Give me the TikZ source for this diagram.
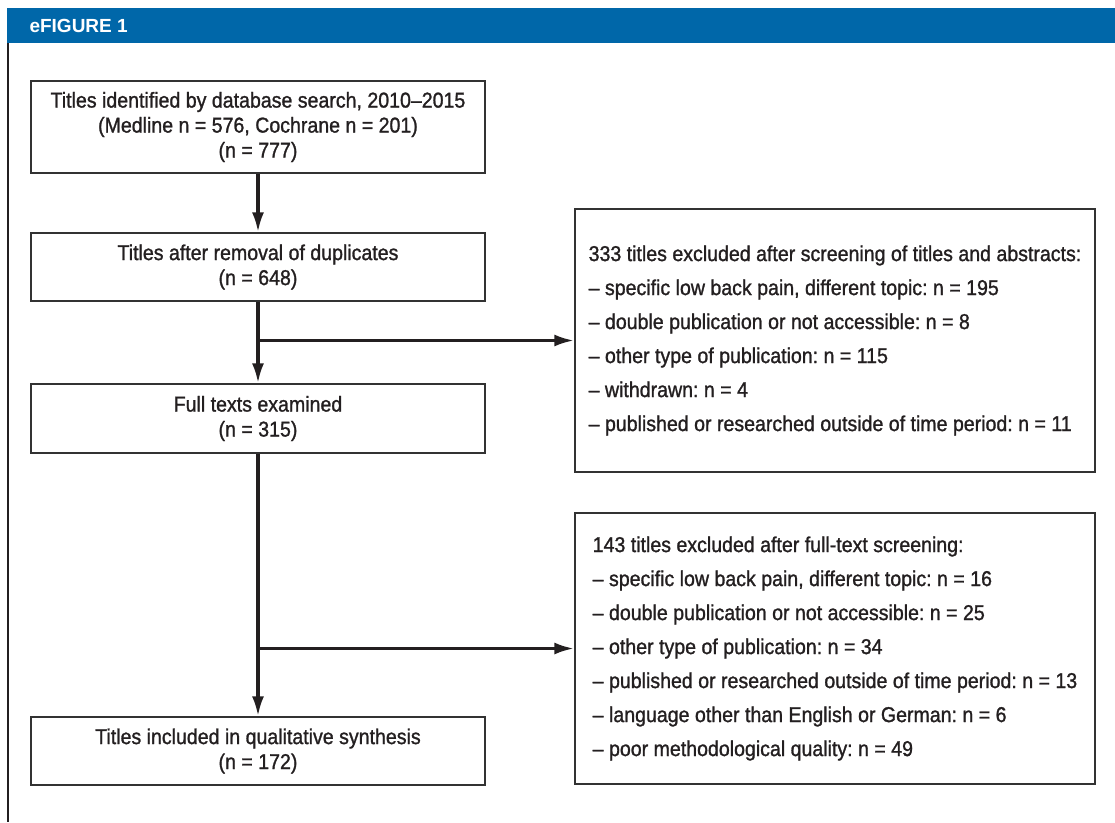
\documentclass[tikz,border=0pt]{standalone}
\usepackage{fontspec}
\setmainfont{Liberation Sans}[FakeStretch=0.91, FakeBold=1.2]
\newfontfamily\headfont{Liberation Sans}
\usetikzlibrary{arrows.meta, positioning}
\frenchspacing

\definecolor{figblue}{RGB}{0,103,169}
\definecolor{boxgray}{RGB}{50,50,50}
\definecolor{inkblack}{RGB}{35,31,32}

\tikzset{
  stage/.style={draw=boxgray, line width=1.3pt, minimum width=454pt, align=center,
    text=inkblack, font=\fontsize{21.5}{25}\selectfont},
  excl/.style={draw=boxgray, line width=1.3pt, minimum width=520pt, align=left,
    text=inkblack, font=\fontsize{21.5}{34}\selectfont},
  flow/.style={line width=3.4pt, draw=inkblack, -{Latex[length=20pt,width=12pt]}}
}

\begin{document}
\begin{tikzpicture}[x=1pt, y=-1pt]
    \useasboundingbox (0,0) rectangle (1115,822);

    % Kopfzeile und Rand
    \fill[figblue] (7,8) rectangle (1115,43);
    \node[anchor=west, text=white, font=\headfont\bfseries\fontsize{19}{20}\selectfont] (title) at (26,25.5) {eFIGURE 1};
    \draw[line width=1.8pt, inkblack] (7.8,43) -- (7.8,822);

    % Hauptpfad
    \node[stage, minimum height=92pt] (search) at (258,127)
        {Titles identified by database search, 2010–2015\\(Medline n = 576, Cochrane n = 201)\\(n = 777)};
    \node[stage, minimum height=68pt] (dedup) at (258,267)
        {Titles after removal of duplicates\\(n = 648)};
    \node[stage, minimum height=69pt] (fulltext) at (258,418.5)
        {Full texts examined\\(n = 315)};
    \node[stage, minimum height=68pt] (included) at (258,751)
        {Titles included in qualitative synthesis\\(n = 172)};

    % Ausschlussboxen
    \node[excl, minimum height=263pt] (exclA) at (835,340.5)
        {333 titles excluded after screening of titles and abstracts:\\
         – specific low back pain, different topic: n = 195\\
         – double publication or not accessible: n = 8\\
         – other type of publication: n = 115\\
         – withdrawn: n = 4\\
         – published or researched outside of time period: n = 11};
    \node[excl, minimum height=271pt] (exclB) at (835,648.5)
        {143 titles excluded after full-text screening:\\
         – specific low back pain, different topic: n = 16\\
         – double publication or not accessible: n = 25\\
         – other type of publication: n = 34\\
         – published or researched outside of time period: n = 13\\
         – language other than English or German: n = 6\\
         – poor methodological quality: n = 49};

    % Pfeile
    \draw[flow] (search) -- (dedup);
    \draw[flow] (dedup) -- (fulltext);
    \coordinate (splitA) at (dedup.south |- exclA.west);
    \draw[flow] (splitA) -- (exclA);
    \draw[flow] (fulltext) -- (included);
    \coordinate (splitB) at (fulltext.south |- exclB.west);
    \draw[flow] (splitB) -- (exclB);
\end{tikzpicture}
\end{document}
